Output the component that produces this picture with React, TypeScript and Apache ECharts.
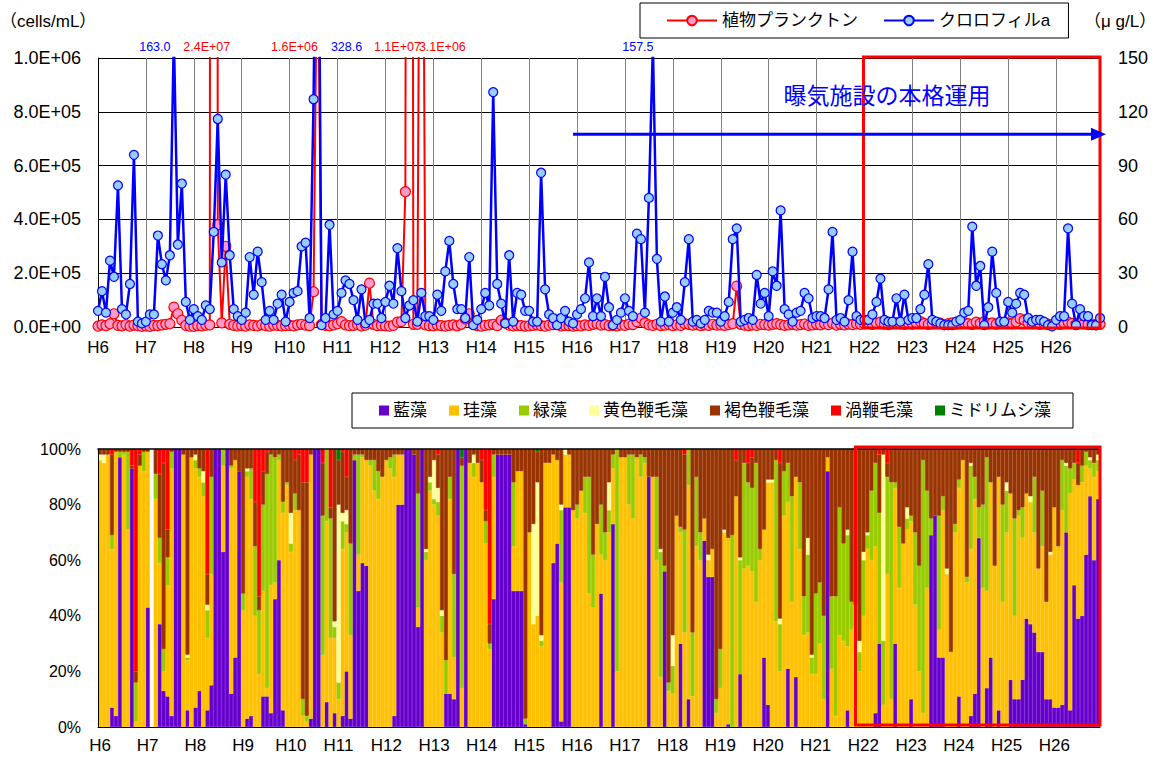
import React, { useEffect, useRef } from "react";
import * as echarts from "echarts";

// ---- categories (fiscal years H6..H26, monthly from April) ----
const fiscalYears = [6, 7, 8, 9, 10, 11, 12, 13, 14, 15, 16, 17, 18, 19, 20, 21, 22, 23, 24, 25, 26];
const monthsOfFiscalYear = [4, 5, 6, 7, 8, 9, 10, 11, 12, 1, 2, 3];
const yearTickLabels = fiscalYears.map((y) => `H${y}`);
const categories = fiscalYears.flatMap((y) => monthsOfFiscalYear.map((m) => `H${y}.${m}`));

// ---- top chart: phytoplankton (cells/mL) ----
const phytoplankton = [
  3e3, 8e3, 5e3, 12e3, 49e3, 6e3, 4e3, 9e3, 3e3, 7e3, 5e3, 2e3,
  4e3, 2e3, 6e3, 5e3, 8e3, 10e3, 12e3, 74e3, 49e3, 25e3, 6e3, 3e3,
  2e3, 5e3, 4e3, 7e3, 8e3, 2.4e7, 380e3, 15e3, 300e3, 10e3, 6e3, 4e3,
  5e3, 3e3, 8e3, 6e3, 4e3, 9e3, 5e3, 3e3, 7e3, 6e3, 4e3, 5e3,
  6e3, 4e3, 8e3, 10e3, 7e3, 5e3, 131e3, 1.6e6, 10e3, 6e3, 4e3, 8e3,
  12e3, 20e3, 8e3, 5e3, 6e3, 9e3, 4e3, 7e3, 163e3, 10e3, 5e3, 6e3,
  4e3, 3e3, 6e3, 18e3, 20e3, 503e3, 1.1e7, 10e3, 10e3, 3.1e6, 8e3, 5e3,
  4e3, 7e3, 5e3, 3e3, 6e3, 8e3, 4e3, 10e3, 30e3, 49e3, 12e3, 5e3,
  3e3, 6e3, 8e3, 10e3, 5e3, 25e3, 15e3, 7e3, 4e3, 6e3, 5e3, 3e3,
  4e3, 6e3, 8e3, 5e3, 3e3, 7e3, 9e3, 12e3, 4e3, 6e3, 5e3, 3e3,
  5e3, 4e3, 8e3, 6e3, 10e3, 12e3, 7e3, 9e3, 5e3, 6e3, 4e3, 8e3,
  6e3, 10e3, 9e3, 20e3, 33e3, 15e3, 8e3, 6e3, 10e3, 5e3, 7e3, 9e3,
  5e3, 8e3, 6e3, 12e3, 10e3, 7e3, 9e3, 5e3, 8e3, 6e3, 10e3, 7e3,
  8e3, 6e3, 9e3, 12e3, 152e3, 10e3, 7e3, 5e3, 8e3, 6e3, 10e3, 9e3,
  7e3, 10e3, 12e3, 9e3, 6e3, 8e3, 10e3, 7e3, 9e3, 11e3, 6e3, 8e3,
  10e3, 8e3, 12e3, 9e3, 14e3, 7e3, 10e3, 8e3, 11e3, 9e3, 12e3, 10e3,
  12e3, 15e3, 10e3, 14e3, 18e3, 11e3, 9e3, 13e3, 16e3, 12e3, 10e3, 14e3,
  11e3, 15e3, 20e3, 13e3, 10e3, 12e3, 16e3, 14e3, 9e3, 12e3, 15e3, 11e3,
  13e3, 16e3, 12e3, 10e3, 18e3, 14e3, 20e3, 12e3, 15e3, 11e3, 17e3, 13e3,
  15e3, 12e3, 19e3, 31e3, 25e3, 14e3, 12e3, 16e3, 10e3, 13e3, 11e3, 9e3,
  12e3, 10e3, 14e3, 18e3, 13e3, 10e3, 16e3, 12e3, 9e3, 11e3, 8e3, 10e3,
];

// ---- top chart: chlorophyll a (μg/L) ----
const chlorophyll = [
  9, 20, 8, 37, 28, 79, 10, 7, 24, 96, 3, 2,
  3, 7, 7, 51, 35, 26, 40, 163.0, 46, 80, 14, 4,
  10, 6, 4, 12, 10, 53, 116, 36, 85, 40, 10, 6,
  4, 8, 39, 18, 42, 25, 4, 9, 4, 13, 18, 3,
  14, 19, 20, 45, 47, 5, 127, 328.6, 1, 5, 57, 7,
  9, 19, 26, 24, 15, 4, 21, 2, 4, 13, 13, 5,
  14, 23, 13, 44, 20, 5, 12, 15, 3, 19, 6, 6,
  4, 18, 9, 31, 48, 24, 10, 10, 5, 39, 1, 4,
  10, 19, 12, 131, 24, 13, 2, 40, 3, 19, 18, 9,
  9, 3, 3, 86, 21, 7, 5, 1, 5, 9, 3, 2,
  7, 10, 16, 36, 6, 16, 6, 28, 11, 1, 4, 8,
  16, 9, 6, 52, 49, 8, 72, 157.5, 38, 3, 17, 3,
  8, 11, 4, 25, 49, 3, 4, 2, 4, 9, 8, 8,
  3, 6, 14, 49, 55, 3, 4, 5, 4, 29, 13, 19,
  6, 31, 23, 65, 10, 7, 3, 8, 9, 19, 16, 5,
  6, 6, 5, 21, 53, 4, 5, 3, 15, 42, 6, 4,
  4, 4, 7, 14, 27, 4, 3, 3, 16, 3, 18, 4,
  5, 5, 10, 18, 35, 4, 3, 2, 1, 1, 1, 3,
  4, 8, 9, 56, 23, 34, 1, 11, 42, 19, 3, 3,
  14, 8, 13, 19, 18, 5, 3, 4, 4, 3, 1, 0.4,
  4, 6, 6, 55, 13, 1, 10, 6, 6, 1, 1, 5,
];

// ---- bottom chart: composition (relative amounts per sample) ----
const ransou = [ // 藍藻
  0, 0, 0, 7, 4, 97, 0, 0, 93, 0, 0, 0,
  43, 0, 0, 37, 13, 11, 4, 100, 100, 0, 6, 0,
  7, 13, 0, 6, 15, 100, 100, 63, 100, 12, 25, 92,
  0, 3, 4, 0, 0, 11, 11, 5, 46, 60, 6, 0,
  0, 0, 0, 0, 0, 3, 100, 100, 0, 9, 0, 5,
  0, 4, 20, 3, 96, 49, 59, 58, 0, 0, 0, 0,
  0, 0, 4, 80, 80, 100, 100, 98, 36, 100, 0, 0,
  0, 0, 0, 12, 12, 10, 100, 0, 100, 0, 0, 0,
  0, 0, 0, 46, 98, 98, 98, 98, 49, 49, 49, 1,
  0, 0, 0, 0, 0, 0, 59, 66, 2, 79, 79, 0,
  0, 0, 0, 0, 0, 0, 48, 0, 0, 73, 0, 0,
  0, 0, 0, 0, 0, 0, 90, 0, 0, 0, 56, 0,
  0, 0, 30, 0, 10, 0, 0, 0, 67, 54, 54, 0,
  0, 0, 1, 0, 0, 19, 0, 0, 0, 0, 0, 25,
  8, 0, 0, 0, 0, 21, 0, 18, 0, 0, 0, 0,
  0, 0, 0, 92, 0, 0, 0, 0, 6, 0, 0, 0,
  0, 0, 0, 5, 30, 0, 0, 0, 30, 0, 0, 0,
  10, 0, 0, 0, 0, 69, 76, 25, 25, 0, 0, 0,
  11, 0, 0, 4, 12, 68, 0, 14, 25, 0, 6, 0,
  0, 17, 10, 10, 17, 39, 37, 34, 27, 27, 10, 10,
  7, 7, 8, 70, 6, 51, 39, 40, 62, 83, 60, 82,
];
const keisou = [ // 珪藻
  96, 95, 98, 57, 95, 0, 98, 71, 0, 2, 94, 92,
  56, 0, 82, 22, 7, 40, 89, 0, 0, 98, 18, 97,
  86, 77, 83, 26, 40, 0, 0, 31, 0, 81, 71, 0,
  42, 87, 78, 40, 19, 38, 3, 46, 6, 36, 71, 87,
  63, 78, 78, 4, 2, 95, 0, 0, 26, 65, 32, 27,
  10, 60, 50, 30, 0, 13, 38, 38, 94, 85, 82, 90,
  96, 93, 86, 18, 18, 0, 0, 0, 7, 0, 60, 85,
  80, 76, 34, 0, 70, 15, 0, 14, 0, 95, 90, 95,
  88, 66, 28, 44, 0, 0, 0, 0, 16, 43, 43, 0,
  70, 37, 40, 29, 95, 95, 39, 30, 50, 19, 19, 78,
  75, 85, 77, 48, 43, 73, 14, 60, 70, 20, 20, 97,
  97, 80, 75, 97, 90, 95, 0, 90, 60, 18, 0, 13,
  12, 76, 40, 34, 77, 11, 65, 60, 8, 6, 10, 5,
  14, 70, 67, 0, 83, 0, 57, 58, 56, 45, 60, 46,
  80, 88, 38, 20, 76, 60, 45, 72, 64, 33, 34, 19,
  19, 30, 10, 5, 21, 4, 33, 31, 23, 35, 36, 20,
  40, 64, 60, 60, 0, 8, 55, 10, 56, 50, 66, 71,
  64, 44, 20, 5, 50, 0, 0, 10, 53, 55, 27, 70,
  75, 96, 52, 60, 70, 0, 50, 35, 63, 58, 84, 45,
  70, 67, 30, 66, 51, 45, 44, 36, 30, 38, 35, 52,
  72, 58, 70, 0, 78, 38, 48, 48, 32, 10, 30, 10,
];
const ryokusou = [ // 緑藻
  0, 0, 0, 5, 0, 2, 1, 28, 0, 14, 0, 7,
  0, 0, 9, 9, 8, 10, 6, 0, 0, 0, 1, 0,
  3, 3, 5, 10, 35, 0, 0, 6, 0, 1, 0, 0,
  6, 2, 11, 25, 23, 31, 77, 47, 45, 2, 4, 1,
  3, 6, 0, 6, 2, 0, 0, 0, 50, 26, 43, 4,
  6, 10, 3, 33, 2, 36, 1, 0, 2, 11, 10, 0,
  0, 4, 8, 0, 0, 0, 0, 0, 41, 0, 3, 3,
  2, 5, 6, 12, 8, 30, 0, 80, 0, 0, 5, 0,
  0, 8, 2, 8, 0, 0, 0, 0, 23, 0, 0, 2,
  0, 0, 0, 2, 0, 0, 0, 0, 26, 0, 0, 0,
  5, 0, 13, 42, 19, 0, 18, 10, 8, 5, 80, 0,
  0, 18, 23, 0, 8, 2, 0, 0, 30, 45, 2, 3,
  10, 0, 2, 37, 13, 23, 25, 10, 0, 0, 0, 5,
  14, 0, 0, 69, 0, 41, 38, 30, 30, 50, 4, 0,
  0, 0, 58, 17, 16, 14, 38, 0, 24, 14, 28, 6,
  29, 22, 30, 0, 26, 43, 46, 35, 40, 10, 8, 7,
  20, 5, 25, 30, 47, 23, 35, 78, 2, 22, 0, 4,
  2, 26, 38, 91, 35, 6, 0, 41, 5, 0, 0, 3,
  3, 0, 2, 30, 8, 11, 30, 48, 0, 0, 0, 35,
  15, 0, 35, 2, 11, 0, 0, 20, 0, 20, 0, 0,
  0, 0, 18, 24, 9, 6, 0, 6, 5, 3, 5, 4,
];
const oushokuBenmousou = [ // 黄色鞭毛藻
  2, 3, 0, 0, 0, 0, 0, 0, 0, 0, 0, 0,
  0, 0, 0, 0, 0, 0, 0, 0, 0, 0, 1, 0,
  2, 0, 4, 2, 0, 0, 0, 0, 0, 0, 0, 0,
  0, 1, 0, 0, 0, 0, 0, 0, 0, 0, 0, 0,
  11, 0, 0, 0, 0, 0, 0, 0, 0, 0, 0, 2,
  64, 3, 5, 0, 0, 0, 0, 0, 0, 0, 0, 0,
  0, 0, 0, 0, 0, 0, 0, 0, 0, 0, 1, 2,
  14, 5, 2, 0, 0, 0, 0, 0, 0, 0, 3, 0,
  0, 0, 0, 0, 0, 0, 0, 0, 0, 0, 0, 0,
  0, 36, 48, 2, 0, 0, 0, 0, 2, 2, 0, 0,
  0, 0, 0, 0, 0, 0, 0, 0, 10, 0, 0, 0,
  0, 0, 0, 0, 0, 0, 0, 0, 0, 1, 0, 0,
  11, 0, 0, 0, 0, 0, 0, 0, 0, 2, 0, 0,
  0, 1, 0, 0, 0, 1, 0, 0, 0, 0, 0, 0,
  1, 1, 0, 2, 0, 0, 0, 0, 0, 0, 6, 1,
  0, 0, 0, 0, 0, 0, 0, 0, 2, 0, 0, 4,
  3, 1, 0, 0, 0, 67, 0, 0, 0, 0, 0, 4,
  0, 0, 0, 0, 0, 0, 0, 0, 0, 2, 0, 0,
  0, 0, 0, 1, 0, 0, 0, 0, 0, 0, 0, 0,
  3, 0, 0, 0, 0, 0, 2, 0, 0, 0, 0, 1,
  0, 0, 0, 1, 0, 0, 0, 0, 0, 1, 0, 2,
];
const kasshokuBenmousou = [ // 褐色鞭毛藻
  2, 2, 2, 29, 1, 1, 1, 1, 1, 4, 4, 1,
  1, 0, 9, 23, 67, 10, 1, 0, 0, 2, 74, 3,
  2, 7, 8, 11, 10, 0, 0, 0, 0, 6, 4, 8,
  52, 7, 7, 16, 5, 12, 8, 2, 3, 2, 19, 12,
  23, 12, 20, 78, 84, 2, 0, 0, 19, 0, 4, 62,
  16, 22, 12, 34, 2, 2, 2, 4, 4, 4, 8, 10,
  4, 3, 2, 2, 2, 0, 0, 2, 16, 0, 36, 10,
  4, 12, 58, 76, 10, 45, 0, 3, 0, 5, 2, 5,
  8, 4, 7, 2, 2, 2, 2, 2, 12, 8, 8, 97,
  30, 27, 11, 67, 5, 5, 2, 4, 20, 0, 2, 22,
  20, 15, 10, 10, 38, 27, 20, 30, 12, 2, 0, 3,
  3, 2, 2, 3, 2, 3, 10, 10, 10, 36, 42, 84,
  67, 24, 28, 27, 0, 66, 10, 30, 25, 38, 36, 90,
  72, 29, 32, 31, 13, 39, 5, 7, 11, 5, 36, 29,
  11, 11, 4, 56, 8, 5, 17, 10, 12, 53, 32, 74,
  52, 48, 60, 3, 53, 53, 21, 34, 29, 55, 56, 69,
  37, 30, 15, 5, 21, 2, 5, 12, 12, 28, 34, 21,
  24, 30, 42, 4, 15, 25, 24, 24, 17, 43, 73, 27,
  11, 4, 46, 5, 10, 21, 20, 3, 12, 42, 10, 20,
  12, 16, 25, 22, 21, 16, 17, 10, 43, 15, 55, 37,
  21, 35, 4, 5, 7, 5, 8, 6, 1, 3, 5, 2,
];
const uzuBenmousou = [ // 渦鞭毛藻
  0, 0, 0, 2, 0, 0, 0, 0, 6, 80, 2, 0,
  0, 0, 0, 9, 5, 29, 0, 0, 0, 0, 0, 0,
  0, 0, 0, 45, 0, 0, 0, 0, 0, 0, 0, 0,
  0, 0, 0, 19, 53, 8, 1, 0, 0, 0, 0, 0,
  0, 4, 2, 12, 12, 0, 0, 0, 5, 0, 21, 0,
  0, 1, 10, 0, 0, 0, 0, 0, 0, 0, 0, 0,
  0, 0, 0, 0, 0, 0, 0, 0, 0, 0, 0, 0,
  0, 2, 0, 0, 0, 0, 0, 0, 0, 0, 0, 0,
  4, 22, 63, 0, 0, 0, 0, 0, 0, 0, 0, 0,
  0, 0, 0, 0, 0, 0, 0, 0, 0, 0, 0, 0,
  0, 0, 0, 0, 0, 0, 0, 0, 0, 0, 0, 0,
  0, 0, 0, 0, 0, 0, 0, 0, 0, 0, 0, 0,
  0, 0, 0, 2, 0, 0, 0, 0, 0, 0, 0, 0,
  0, 0, 0, 0, 4, 0, 0, 5, 3, 0, 0, 0,
  0, 0, 0, 5, 0, 0, 0, 0, 0, 0, 0, 0,
  0, 0, 0, 0, 0, 0, 0, 0, 0, 0, 0, 0,
  0, 0, 0, 0, 2, 0, 5, 0, 0, 0, 0, 0,
  0, 0, 0, 0, 0, 0, 0, 0, 0, 0, 0, 0,
  0, 0, 0, 0, 0, 0, 0, 0, 0, 0, 0, 0,
  0, 0, 0, 0, 0, 0, 0, 0, 0, 0, 0, 0,
  0, 0, 0, 0, 0, 0, 5, 0, 0, 0, 0, 0,
];
const midorimushisou = [ // ミドリムシ藻
  0, 0, 0, 0, 0, 0, 0, 0, 0, 0, 0, 0,
  0, 0, 0, 0, 0, 0, 0, 0, 0, 0, 0, 0,
  0, 0, 0, 0, 0, 0, 0, 0, 0, 0, 0, 0,
  0, 0, 0, 0, 0, 0, 0, 0, 0, 0, 0, 0,
  0, 0, 0, 0, 0, 0, 0, 0, 0, 0, 0, 0,
  4, 0, 0, 0, 0, 0, 0, 0, 0, 0, 0, 0,
  0, 0, 0, 0, 0, 0, 0, 0, 0, 0, 0, 0,
  0, 0, 0, 0, 0, 0, 0, 3, 0, 0, 0, 0,
  0, 0, 0, 0, 0, 0, 0, 0, 0, 0, 0, 0,
  0, 0, 1, 0, 0, 0, 0, 0, 0, 0, 0, 0,
  0, 0, 0, 0, 0, 0, 0, 0, 0, 0, 0, 0,
  0, 0, 0, 0, 0, 0, 0, 0, 0, 0, 0, 0,
  0, 0, 0, 0, 0, 0, 0, 0, 0, 0, 0, 0,
  0, 0, 0, 0, 0, 0, 0, 0, 0, 0, 0, 0,
  0, 0, 0, 0, 0, 0, 0, 0, 0, 0, 0, 0,
  0, 0, 0, 0, 0, 0, 0, 0, 0, 0, 0, 0,
  0, 0, 0, 0, 0, 0, 0, 0, 0, 0, 0, 0,
  0, 0, 0, 0, 0, 0, 0, 0, 0, 0, 0, 0,
  0, 0, 0, 0, 0, 0, 0, 0, 0, 0, 0, 0,
  0, 0, 0, 0, 0, 0, 0, 0, 0, 0, 0, 0,
  0, 0, 0, 0, 0, 0, 0, 0, 0, 0, 0, 0,
];

const algaeGroups = [
  { name: "藍藻", color: "#6600CC", values: ransou },
  { name: "珪藻", color: "#FFC000", values: keisou },
  { name: "緑藻", color: "#99CC00", values: ryokusou },
  { name: "黄色鞭毛藻", color: "#FFFF99", values: oushokuBenmousou },
  { name: "褐色鞭毛藻", color: "#993300", values: kasshokuBenmousou },
  { name: "渦鞭毛藻", color: "#FF0000", values: uzuBenmousou },
  { name: "ミドリムシ藻", color: "#008000", values: midorimushisou },
];

const PHYTO_NAME = "植物プランクトン";
const CHL_NAME = "クロロフィルa";
const PHYTO_MAX = 1e6;
const CHL_MAX = 150;
const annotationText = "曝気施設の本格運用";
const aerationStart = "H22.4";
const arrowFrom = "H15.3";

// label horizontal shifts (layout only) for off-scale values
const chlLabelShift: Record<number, number> = { 19: -19, 55: 29, 139: -15 };
const phytoLabelShift: Record<number, number> = { 29: -7, 55: -23, 78: -12, 81: 21 };

const FONT = "'Liberation Sans', 'Noto Sans CJK JP', sans-serif";

function fmtExp(v: number): string {
  if (!v) return "0.0E+00";
  const e = Math.floor(Math.log10(v) + 1e-9);
  const m = v / Math.pow(10, e);
  return `${m.toFixed(1)}E+${String(e).padStart(2, "0")}`;
}

function yearLabel(_v: string, i: number) {
  return i % 12 === 0 ? yearTickLabels[i / 12] : "";
}

export default function App() {
  const ref = useRef<HTMLDivElement>(null);

  useEffect(() => {
    if (!ref.current) return;
    const chart = echarts.init(ref.current, null, { renderer: "svg" });

    const totals = categories.map((_, i) =>
      algaeGroups.reduce((s, g) => s + g.values[i], 0)
    );

    const overPoints = (vals: number[], max: number, shifts: Record<number, number>) =>
      vals
        .map((v, i) => ({ v, i }))
        .filter((p) => p.v > max)
        .map((p) => ({
          coord: [categories[p.i], max],
          value: p.v,
          label: { offset: [shifts[p.i] ?? 0, 0] },
        }));

    const option: any = {
      animation: false,
      textStyle: { fontFamily: FONT, color: "#000" },
      legend: [
        {
          left: 640,
          top: 3,
          padding: [9, 18, 9, 26],
          itemGap: 25,
          itemWidth: 50,
          itemHeight: 12,
          borderColor: "#000",
          borderWidth: 1,
          textStyle: { fontSize: 17, color: "#000", fontFamily: FONT },
          data: [PHYTO_NAME, CHL_NAME],
        },
        {
          left: 352,
          top: 393,
          padding: [9, 22, 9, 27],
          itemGap: 22,
          itemWidth: 8,
          itemHeight: 8,
          icon: "rect",
          borderColor: "#000",
          borderWidth: 1,
          textStyle: { fontSize: 17, color: "#000", fontFamily: FONT },
          data: algaeGroups.map((g) => g.name),
        },
      ],
      grid: [
        { left: 98, top: 58, width: 1002, height: 269 },
        { left: 98, top: 449, width: 1002, height: 278 },
      ],
      xAxis: [
        {
          gridIndex: 0,
          type: "category",
          data: categories,
          boundaryGap: false,
          axisLine: { lineStyle: { color: "#000", width: 1 } },
          axisTick: { show: false },
          axisLabel: { interval: 11, formatter: yearLabel, fontSize: 17, color: "#000", margin: 12 },
          splitLine: { show: true, interval: 11, lineStyle: { color: "#808080", width: 1 } },
        },
        {
          gridIndex: 1,
          type: "category",
          data: categories,
          boundaryGap: true,
          z: 5,
          axisLine: { lineStyle: { color: "#000", width: 1 } },
          axisTick: { show: false },
          axisLabel: { interval: 11, formatter: yearLabel, fontSize: 17, color: "#000", margin: 10 },
          splitLine: { show: false },
        },
        {
          gridIndex: 1,
          type: "category",
          data: categories,
          position: "top",
          z: 5,
          axisLine: { show: true, lineStyle: { color: "#000", width: 1.5 } },
          axisTick: { show: false },
          axisLabel: { show: false },
          splitLine: { show: false },
        },
      ],
      yAxis: [
        {
          gridIndex: 0,
          type: "value",
          min: 0,
          max: PHYTO_MAX,
          interval: 2e5,
          position: "left",
          axisLine: { show: true, lineStyle: { color: "#000" } },
          axisTick: { show: false },
          splitLine: { show: true, lineStyle: { color: "#000", width: 1 } },
          axisLabel: { formatter: fmtExp, fontSize: 18, color: "#000", margin: 17 },
        },
        {
          gridIndex: 0,
          type: "value",
          min: 0,
          max: CHL_MAX,
          interval: 30,
          position: "right",
          axisLine: { show: true, lineStyle: { color: "#000" } },
          axisTick: { show: false },
          splitLine: { show: false },
          axisLabel: { fontSize: 18, color: "#000", margin: 18 },
        },
        {
          gridIndex: 1,
          type: "value",
          min: 0,
          max: 100,
          interval: 20,
          z: 5,
          axisLine: { show: true, lineStyle: { color: "#000" } },
          axisTick: { show: false },
          splitLine: { show: false },
          axisLabel: { formatter: "{value}%", fontSize: 16, color: "#000", margin: 17 },
        },
      ],
      series: [
        {
          name: PHYTO_NAME,
          type: "line",
          xAxisIndex: 0,
          yAxisIndex: 0,
          data: phytoplankton,
          symbol: "circle",
          symbolSize: 10,
          showAllSymbol: true,
          clip: true,
          lineStyle: { color: "#FF0000", width: 2 },
          itemStyle: { color: "#FF99CC", borderColor: "#FF0000", borderWidth: 1.2 },
          z: 2,
          markPoint: {
            symbol: "rect",
            symbolSize: 1,
            itemStyle: { color: "rgba(0,0,0,0)" },
            label: {
              show: true,
              position: "top",
              distance: 4,
              color: "#FF0000",
              fontSize: 12.5,
              fontFamily: FONT,
              formatter: (p: any) => fmtExp(p.value),
            },
            data: overPoints(phytoplankton, PHYTO_MAX, phytoLabelShift),
          },
        },
        {
          name: CHL_NAME,
          type: "line",
          xAxisIndex: 0,
          yAxisIndex: 1,
          data: chlorophyll,
          symbol: "circle",
          symbolSize: 9,
          showAllSymbol: true,
          clip: true,
          lineStyle: { color: "#0000FF", width: 2.5 },
          itemStyle: { color: "#99CCFF", borderColor: "#0000FF", borderWidth: 1.2 },
          z: 3,
          markPoint: {
            symbol: "rect",
            symbolSize: 1,
            itemStyle: { color: "rgba(0,0,0,0)" },
            label: {
              show: true,
              position: "top",
              distance: 4,
              color: "#0000FF",
              fontSize: 12.5,
              fontFamily: FONT,
              formatter: (p: any) => Number(p.value).toFixed(1),
            },
            data: overPoints(chlorophyll, CHL_MAX, chlLabelShift),
          },
        },
        ...algaeGroups.map((g) => ({
          name: g.name,
          type: "bar",
          xAxisIndex: 1,
          yAxisIndex: 2,
          stack: "composition",
          barCategoryGap: "0%",
          itemStyle: { color: g.color, borderColor: g.color, borderWidth: 0.7 },
          data: g.values.map((v, i) => (totals[i] && v ? (v / totals[i]) * 100 : "-")),
        })),
      ],
    };

    chart.setOption(option);

    // annotations placed through the axes
    const last = categories[categories.length - 1];
    const topA = chart.convertToPixel({ xAxisIndex: 0, yAxisIndex: 0 }, [aerationStart, PHYTO_MAX]) as number[];
    const topB = chart.convertToPixel({ xAxisIndex: 0, yAxisIndex: 0 }, [last, 0]) as number[];
    const botStartIdx = categories.indexOf(aerationStart) - 2;
    const botA = chart.convertToPixel({ xAxisIndex: 1, yAxisIndex: 2 }, [categories[botStartIdx], 100]) as number[];
    const botB = chart.convertToPixel({ xAxisIndex: 1, yAxisIndex: 2 }, [last, 0]) as number[];
    const arrowStart = chart.convertToPixel({ xAxisIndex: 0, yAxisIndex: 1 }, [arrowFrom, 107.5]) as number[];
    const arrowTipX = topB[0] + 6;
    const arrowY = arrowStart[1];
    const topLeftX = topA[0] - 1;

    chart.setOption({
      graphic: [
        {
          type: "text",
          left: 0,
          top: 13,
          style: { text: "（cells/mL）", fontSize: 17, fill: "#000", fontFamily: FONT },
        },
        {
          type: "text",
          left: 1084,
          top: 13,
          style: { text: "（μ g/L）", fontSize: 17, fill: "#000", fontFamily: FONT },
        },
        {
          type: "rect",
          z: 100,
          shape: { x: topLeftX, y: topA[1] - 1, width: topB[0] - topLeftX, height: topB[1] - topA[1] + 2 },
          style: { fill: "none", stroke: "#FF0000", lineWidth: 3 },
        },
        {
          type: "rect",
          z: 100,
          shape: { x: botA[0], y: botA[1] - 2, width: botB[0] + 2 - botA[0], height: botB[1] - botA[1] },
          style: { fill: "none", stroke: "#FF0000", lineWidth: 3 },
        },
        {
          type: "line",
          z: 100,
          shape: { x1: arrowStart[0], y1: arrowY, x2: arrowTipX - 12, y2: arrowY },
          style: { stroke: "#0000FF", lineWidth: 3 },
        },
        {
          type: "polygon",
          z: 100,
          shape: { points: [[arrowTipX, arrowY], [arrowTipX - 15, arrowY - 6.5], [arrowTipX - 15, arrowY + 6.5]] },
          style: { fill: "#0000FF" },
        },
        {
          type: "text",
          z: 100,
          x: 887,
          y: 96,
          style: {
            text: annotationText,
            fontSize: 23,
            fill: "#0000FF",
            fontFamily: FONT,
            align: "center",
            verticalAlign: "middle",
          },
        },
      ],
    });

    return () => chart.dispose();
  }, []);

  return (
    <div
      ref={ref}
      style={{ position: "absolute", left: 0, top: 0, width: 1168, height: 764, background: "#fff" }}
    />
  );
}
